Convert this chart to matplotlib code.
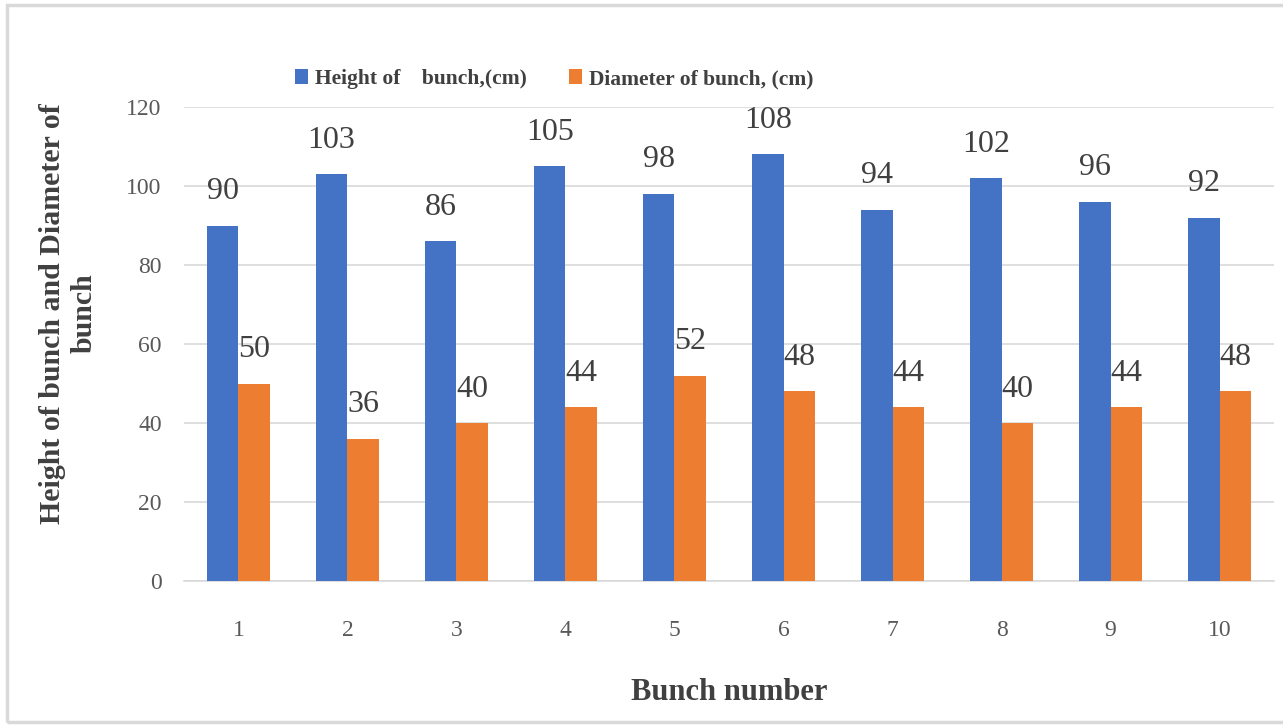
import numpy as np
import matplotlib
matplotlib.use('Agg')
import matplotlib.pyplot as plt
from matplotlib.patches import Patch, Rectangle

# bunch measurements
bunch_numbers = ['1', '2', '3', '4', '5', '6', '7', '8', '9', '10']
bunch_height = [90, 103, 86, 105, 98, 108, 94, 102, 96, 92]
bunch_diameter = [50, 36, 40, 44, 52, 48, 44, 40, 44, 48]
series_names = ['Height of    bunch,(cm)', 'Diameter of bunch, (cm)']

blue = '#4472c4'
orange = '#ed7d31'
plt.rcParams['font.family'] = ['Liberation Serif', 'DejaVu Serif']

fig = plt.figure(figsize=(12.83, 7.27), dpi=100)
ax = fig.add_axes([0.1434, 0.2008, 0.8496, 0.652])

x = np.arange(len(bunch_numbers))
w = 0.29
b1 = ax.bar(x - w / 2, bunch_height, w, color=blue, zorder=3)
b2 = ax.bar(x + w / 2, bunch_diameter, w, color=orange, zorder=3)

for bars, vals in ((b1, bunch_height), (b2, bunch_diameter)):
    for rect, v in zip(bars, vals):
        ax.annotate(str(v), (rect.get_x() + rect.get_width() / 2, v),
                    xytext=(0, 14), textcoords='offset points',
                    ha='center', va='bottom', fontsize=23, color='#404040')

ax.set_xlim(-0.5, len(bunch_numbers) - 0.5)
ax.set_ylim(0, 120)
ax.set_yticks(range(0, 121, 20))
ax.set_xticks(x)
ax.set_xticklabels(bunch_numbers)
ax.grid(axis='y', color='#d9d9d9', linewidth=1.2, zorder=0)
ax.set_axisbelow(True)
for s in ('top', 'right', 'left'):
    ax.spines[s].set_visible(False)
ax.spines['bottom'].set_color('#d9d9d9')
ax.spines['bottom'].set_linewidth(1.2)
ax.tick_params(axis='both', length=0, labelsize=17, labelcolor='#595959')
ax.tick_params(axis='x', pad=28)
ax.tick_params(axis='y', pad=16)

ax.set_xlabel('Bunch number', fontsize=22, fontweight='bold', color='#404040')
ax.xaxis.set_label_coords(0.5, -0.205)
ax.set_ylabel('Height of bunch and Diameter of\nbunch', fontsize=21.5,
              fontweight='bold', color='#404040', linespacing=1.25)
ax.yaxis.set_label_coords(-0.079, 0.565)

handles = [Patch(facecolor=blue), Patch(facecolor=orange)]
fig.legend(handles, series_names, loc='center', bbox_to_anchor=(0.432, 0.891),
           ncol=2, frameon=False, prop={'size': 15.5, 'weight': 'bold'},
           labelcolor='#404040', handlelength=0.6, handleheight=0.7,
           handletextpad=0.3, columnspacing=2.0)

# outer frame
fig.patches.append(Rectangle((0.0055, 0.007), 1.0, 0.986, transform=fig.transFigure,
                             fill=False, edgecolor='#d9d9d9', linewidth=2.5))

fig.savefig('out.png', dpi=100)
